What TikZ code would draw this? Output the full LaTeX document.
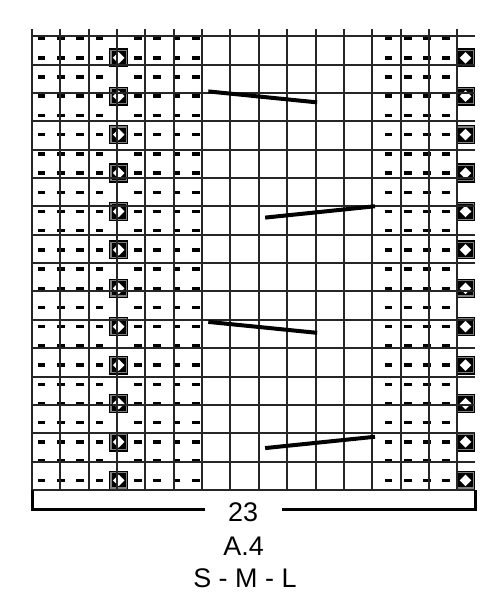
\documentclass[tikz,border=0pt]{standalone}
\usepackage{fontspec}
\setmainfont{Liberation Sans}
\usetikzlibrary{positioning,calc}

\tikzset{
    purl/.style={fill=black},
    cable/.style={line width=4bp},
    caption/.style={font=\fontsize{27}{30}\selectfont, inner sep=0pt}
}

\begin{document}
\begin{tikzpicture}[x=19.26bp, y=19.2bp]
    \useasboundingbox (-1.661,-5.729) rectangle (24.194,25.51);

    % Purl stitches
    \foreach \x in {0,1,2,3,5,6,7,8,18,19,20,21}
        \foreach \y in {0,...,23}
            \fill[purl] (\x+0.3,\y+0.41) rectangle (\x+0.7,\y+0.59);

    % Diamond stitches
    \foreach \x in {4,22}
        \foreach \y in {0,2,...,22} {
            \fill[black] (\x,\y) rectangle (\x+1,\y+1);
            \draw[gray, line width=1.1bp] (\x+0.1,\y+0.1) rectangle (\x+0.9,\y+0.9);
            \fill[white] (\x+0.5,\y+0.2) -- (\x+0.8,\y+0.5) -- (\x+0.5,\y+0.8) -- (\x+0.2,\y+0.5) -- cycle;
        }

    % Grid
    \draw[line width=2bp, black!85] (0,0) grid (23,24);

    % Cables
    \foreach \y in {20,8}
        \draw[cable] (9.15,\y+0.75) -- (14.8,\y+0.18);
    \foreach \y in {14,2}
        \draw[cable] (12.1,\y+0.18) -- (17.8,\y+0.77);

    % Width bracket
    \node[caption] (width) at (10.96,-1.15) {23};
    \coordinate (leftend) at (8.98,-1.04);
    \coordinate (rightend) at (12.98,-1.04);
    \draw[line width=3bp] (leftend) -| (0,0);
    \draw[line width=3bp] (rightend) -| (23,0);

    % Labels
    \node[caption] (chart) at (10.98,-2.92) {A.4};
    \node[caption] (sizes) at (11.05,-4.6) {S - M - L};
\end{tikzpicture}
\end{document}
